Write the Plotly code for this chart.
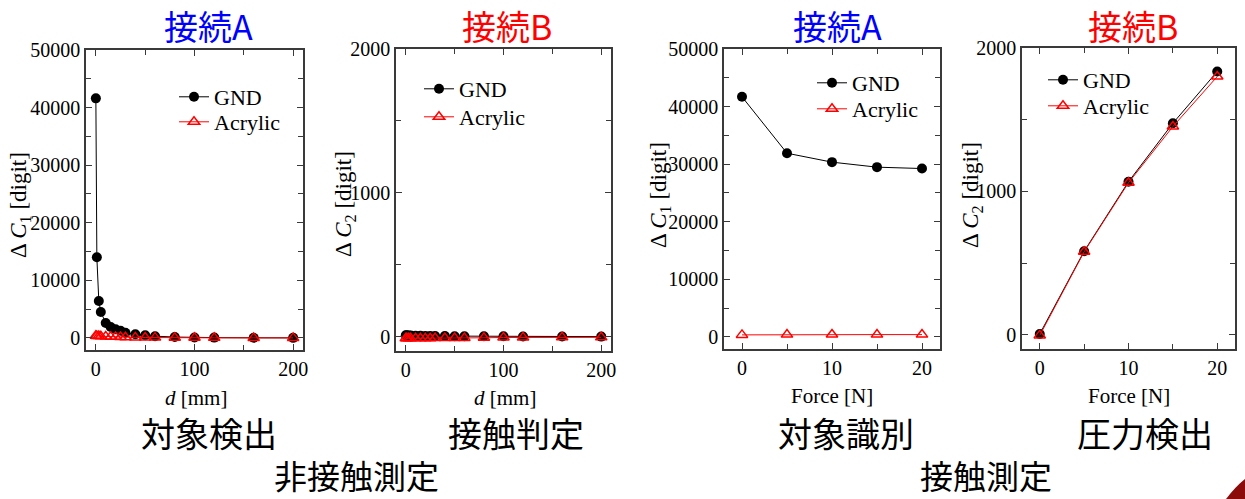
import plotly.graph_objects as go

W, H = 1245, 499

# ---------------- data ----------------
d_mm = [0, 1, 3, 5, 10, 15, 20, 25, 30, 40, 50, 60, 80, 100, 120, 160, 200]
gnd_c1_d = [41600, 14000, 6400, 4500, 2600, 1900, 1500, 1250, 900, 650, 450, 300, 150, 80, 50, 20, 10]
acr_c1_d = [380, 350, 320, 290, 250, 210, 180, 150, 120, 90, 70, 50, 30, 20, 10, 5, 0]
gnd_c2_d = [10, 10, 8, 8, 6, 6, 5, 5, 4, 4, 3, 3, 2, 2, 1, 1, 0]
acr_c2_d = [-12, -12, -12, -12, -12, -12, -12, -12, -10, -10, -10, -10, -8, -6, -6, -5, -5]

force = [0, 5, 10, 15, 20]
gnd_c1_f = [41700, 31900, 30350, 29480, 29240]
acr_c1_f = [350, 400, 420, 400, 400]
gnd_c2_f = [5, 582, 1067, 1475, 1836]
acr_c2_f = [-5, 578, 1060, 1452, 1801]

series_names = ["GND", "Acrylic"]
panel_titles = ["接続A", "接続B", "接続A", "接続B"]
panel_title_colors = ["#0000ff", "#ff0000", "#0000ff", "#ff0000"]
y_titles = ["Δ <i>C</i><sub>1</sub> [digit]", "Δ <i>C</i><sub>2</sub> [digit]",
            "Δ <i>C</i><sub>1</sub> [digit]", "Δ <i>C</i><sub>2</sub> [digit]"]
x_titles = ["<i>d</i> [mm]", "<i>d</i> [mm]", "Force [N]", "Force [N]"]
sub_labels = ["対象検出", "接触判定", "対象識別", "圧力検出"]
group_labels = ["非接触測定", "接触測定"]

# ---------------- layout helpers (pixel -> paper) ----------------
def px(x):
    return x / W

def py(y):
    return 1 - y / H

panels = [
    dict(x=(86, 303), y=(50, 350), xr=[-10, 210], yr=[-2100, 50000], xd=100, xm=50, yd=10000, ym=5000,
         xs=d_mm, g=gnd_c1_d, a=acr_c1_d),
    dict(x=(396, 611), y=(49, 351), xr=[-10, 210], yr=[-100, 2000], xd=100, xm=50, yd=1000, ym=500,
         xs=d_mm, g=gnd_c2_d, a=acr_c2_d),
    dict(x=(724, 940), y=(49, 349), xr=[-2, 22], yr=[-2100, 50000], xd=10, xm=5, yd=10000, ym=5000,
         xs=force, g=gnd_c1_f, a=acr_c1_f),
    dict(x=(1022, 1235), y=(48, 349), xr=[-2, 22], yr=[-100, 2000], xd=10, xm=5, yd=1000, ym=500,
         xs=force, g=gnd_c2_f, a=acr_c2_f),
]

title_pos = [(208, 25), (507, 25), (837, 25), (1133, 25)]
ytitle_pos = [(20, 205), (345, 204), (660, 195), (972, 195)]
xtitle_pos = [(196, 398), (505, 398), (832, 396), (1129, 396)]
sub_pos = [(209, 432), (516, 432), (846, 432), (1145, 432)]
group_pos = [(356, 475), (986, 475)]
# (left x, top y of GND row, top y of Acrylic row)
legend_pos = [(174, 76, 101), (419, 68, 96), (812, 62, 88), (1043, 59, 85)]

serif = "Liberation Serif"
cjk = "Noto Sans CJK JP"
axis_col = "#3a3a3a"

fig = go.Figure()
layout = dict(width=W, height=H, margin=dict(l=0, r=0, t=0, b=0, pad=0, autoexpand=False), autosize=False,
              paper_bgcolor="white", plot_bgcolor="white", showlegend=True, template="none")

annotations = []
for i, p in enumerate(panels):
    n = i + 1
    xa = "x" if n == 1 else f"x{n}"
    ya = "y" if n == 1 else f"y{n}"
    lg_g = "legend" if n == 1 else f"legend{2 * n - 1}"
    lg_a = f"legend{2 * n}"
    fig.add_trace(go.Scatter(
        x=p["xs"], y=p["g"], name=series_names[0], mode="lines+markers",
        line=dict(color="black", width=1),
        marker=dict(symbol="circle", size=10, color="black"),
        xaxis=xa, yaxis=ya, legend=lg_g))
    fig.add_trace(go.Scatter(
        x=p["xs"], y=p["a"], name=series_names[1], mode="lines+markers",
        line=dict(color="#ff0000", width=1),
        marker=dict(symbol="triangle-up-open", size=10, color="#ff0000", line=dict(width=1.5, color="#ff0000")),
        xaxis=xa, yaxis=ya, legend=lg_a))

    common = dict(showgrid=False, zeroline=False, showline=True, linecolor=axis_col, linewidth=1.5,
                  mirror="allticks", ticks="inside", ticklen=6, tickcolor=axis_col, tickwidth=1.2,
                  tickformat="d", automargin=False, tickfont=dict(family=serif, size=20, color="black"))
    layout["xaxis" if n == 1 else f"xaxis{n}"] = dict(
        common, domain=[px(p["x"][0]), px(p["x"][1])], range=p["xr"], dtick=p["xd"], tick0=0,
        anchor=ya, minor=dict(dtick=p["xm"], ticks="inside", ticklen=5, tickcolor=axis_col, tickwidth=1.2))
    layout["yaxis" if n == 1 else f"yaxis{n}"] = dict(
        common, domain=[py(p["y"][1]), py(p["y"][0])], range=p["yr"], dtick=p["yd"], tick0=0,
        anchor=xa, minor=dict(dtick=p["ym"], ticks="inside", ticklen=5, tickcolor=axis_col, tickwidth=1.2))
    lx, ty_g, ty_a = legend_pos[i]
    for lg, ty in ((lg_g, ty_g), (lg_a, ty_a)):
        layout[lg] = dict(x=px(lx), y=py(ty), xanchor="left", yanchor="top",
                          bgcolor="rgba(0,0,0,0)", font=dict(family=serif, size=22, color="black"),
                          tracegroupgap=0, itemwidth=30, borderwidth=0)

    annotations.append(dict(text=panel_titles[i], x=px(title_pos[i][0]), y=py(title_pos[i][1]),
                            xref="paper", yref="paper", showarrow=False, xanchor="center", yanchor="middle",
                            font=dict(family=cjk, size=34, color=panel_title_colors[i])))
    annotations.append(dict(text=y_titles[i], x=px(ytitle_pos[i][0]), y=py(ytitle_pos[i][1]),
                            xref="paper", yref="paper", showarrow=False, textangle=-90,
                            xanchor="center", yanchor="middle",
                            font=dict(family=serif, size=23, color="black")))
    annotations.append(dict(text=x_titles[i], x=px(xtitle_pos[i][0]), y=py(xtitle_pos[i][1]),
                            xref="paper", yref="paper", showarrow=False, xanchor="center", yanchor="middle",
                            font=dict(family=serif, size=21, color="black")))
    annotations.append(dict(text=sub_labels[i], x=px(sub_pos[i][0]), y=py(sub_pos[i][1]),
                            xref="paper", yref="paper", showarrow=False, xanchor="center", yanchor="middle",
                            font=dict(family=cjk, size=34, color="black")))

for j, t in enumerate(group_labels):
    annotations.append(dict(text=t, x=px(group_pos[j][0]), y=py(group_pos[j][1]),
                            xref="paper", yref="paper", showarrow=False, xanchor="center", yanchor="middle",
                            font=dict(family=cjk, size=33, color="black")))

layout["annotations"] = annotations
# decorative corner swoosh of the slide
layout["shapes"] = [dict(type="path", xref="paper", yref="paper",
                         path=f"M {px(1226)} {py(499)} Q {px(1236)} {py(486)} {px(1245)} {py(479)} L {px(1245)} {py(499)} Z",
                         fillcolor="#8b0a0a", line=dict(width=0))]

fig.update_layout(**layout)
fig.write_html("out.html", config={"displayModeBar": False},
               post_script="document.documentElement.style.margin='0';document.body.style.margin='0';"
                           "document.body.style.padding='0';document.body.style.overflow='hidden';")
